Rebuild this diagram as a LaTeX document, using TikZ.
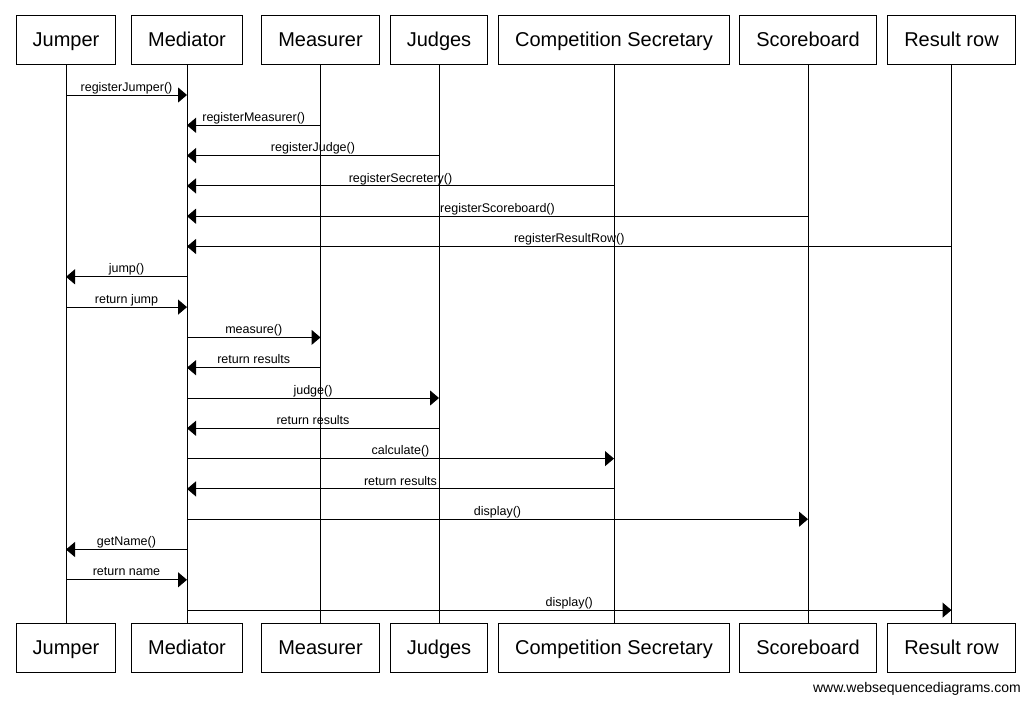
\documentclass[tikz,border=0pt]{standalone}
\usepackage{fontspec}
\setmainfont{Liberation Sans}
\usetikzlibrary{positioning,arrows.meta}

\begin{document}
\begin{tikzpicture}[
  x=1pt, y=-1pt,
  obj/.style={rectangle, draw=black, line width=1pt, minimum height=49pt,
              inner xsep=16.5pt, text height=17.5pt, text depth=3pt,
              fill=white, font=\fontsize{20pt}{24pt}\selectfont},
  life/.style={draw=black, line width=1pt},
  msg/.style={-{Triangle[length=9pt,width=15pt]}, draw=black, line width=1pt},
  lbl/.style={above, inner sep=0.6pt, text height=9pt, text depth=2.8pt,
              font=\fontsize{12.5pt}{15pt}\selectfont},
  web/.style={anchor=base east, inner sep=0pt, font=\fontsize{14pt}{16pt}\selectfont}
]
\useasboundingbox (0,0) rectangle (1030,707);

% participants, top row
\node[obj] (jmp) at ( 66.0,39.5) {Jumper};
\node[obj] (med) at (187.0,39.5) {Mediator};
\node[obj] (msr) at (320.5,39.5) {Measurer};
\node[obj] (jdg) at (439.0,39.5) {Judges};
\node[obj] (sec) at (614.0,39.5) {Competition Secretary};
\node[obj] (scb) at (808.0,39.5) {Scoreboard};
\node[obj] (res) at (951.5,39.5) {Result row};

% participants, bottom row
\node[obj] (jmpB) at ( 66.0,647.5) {Jumper};
\node[obj] (medB) at (187.0,647.5) {Mediator};
\node[obj] (msrB) at (320.5,647.5) {Measurer};
\node[obj] (jdgB) at (439.0,647.5) {Judges};
\node[obj] (secB) at (614.0,647.5) {Competition Secretary};
\node[obj] (scbB) at (808.0,647.5) {Scoreboard};
\node[obj] (resB) at (951.5,647.5) {Result row};

% lifelines
\draw[life] (jmp) -- (jmpB);
\draw[life] (med) -- (medB);
\draw[life] (msr) -- (msrB);
\draw[life] (jdg) -- (jdgB);
\draw[life] (sec) -- (secB);
\draw[life] (scb) -- (scbB);
\draw[life] (res) -- (resB);

% message rows
\coordinate (m1)  at (0, 95.0);
\coordinate (m2)  at (0,125.3);
\coordinate (m3)  at (0,155.6);
\coordinate (m4)  at (0,185.9);
\coordinate (m5)  at (0,216.2);
\coordinate (m6)  at (0,246.5);
\coordinate (m7)  at (0,276.8);
\coordinate (m8)  at (0,307.1);
\coordinate (m9)  at (0,337.4);
\coordinate (m10) at (0,367.7);
\coordinate (m11) at (0,398.0);
\coordinate (m12) at (0,428.3);
\coordinate (m13) at (0,458.6);
\coordinate (m14) at (0,488.9);
\coordinate (m15) at (0,519.2);
\coordinate (m16) at (0,549.5);
\coordinate (m17) at (0,579.8);
\coordinate (m18) at (0,610.1);

\draw[msg] (jmp |- m1)  -- node[lbl]{registerJumper()}     (med |- m1);
\draw[msg] (msr |- m2)  -- node[lbl]{registerMeasurer()}   (med |- m2);
\draw[msg] (jdg |- m3)  -- node[lbl]{registerJudge()}      (med |- m3);
\draw[msg] (sec |- m4)  -- node[lbl]{registerSecretery()}  (med |- m4);
\draw[msg] (scb |- m5)  -- node[lbl]{registerScoreboard()} (med |- m5);
\draw[msg] (res |- m6)  -- node[lbl]{registerResultRow()}  (med |- m6);
\draw[msg] (med |- m7)  -- node[lbl]{jump()}               (jmp |- m7);
\draw[msg] (jmp |- m8)  -- node[lbl]{return jump}          (med |- m8);
\draw[msg] (med |- m9)  -- node[lbl]{measure()}            (msr |- m9);
\draw[msg] (msr |- m10) -- node[lbl]{return results}       (med |- m10);
\draw[msg] (med |- m11) -- node[lbl]{judge()}              (jdg |- m11);
\draw[msg] (jdg |- m12) -- node[lbl]{return results}       (med |- m12);
\draw[msg] (med |- m13) -- node[lbl]{calculate()}          (sec |- m13);
\draw[msg] (sec |- m14) -- node[lbl]{return results}       (med |- m14);
\draw[msg] (med |- m15) -- node[lbl]{display()}            (scb |- m15);
\draw[msg] (med |- m16) -- node[lbl]{getName()}            (jmp |- m16);
\draw[msg] (jmp |- m17) -- node[lbl]{return name}          (med |- m17);
\draw[msg] (med |- m18) -- node[lbl]{display()}            (res |- m18);

\node[web] (site) at (1021,692) {www.websequencediagrams.com};
\end{tikzpicture}
\end{document}
